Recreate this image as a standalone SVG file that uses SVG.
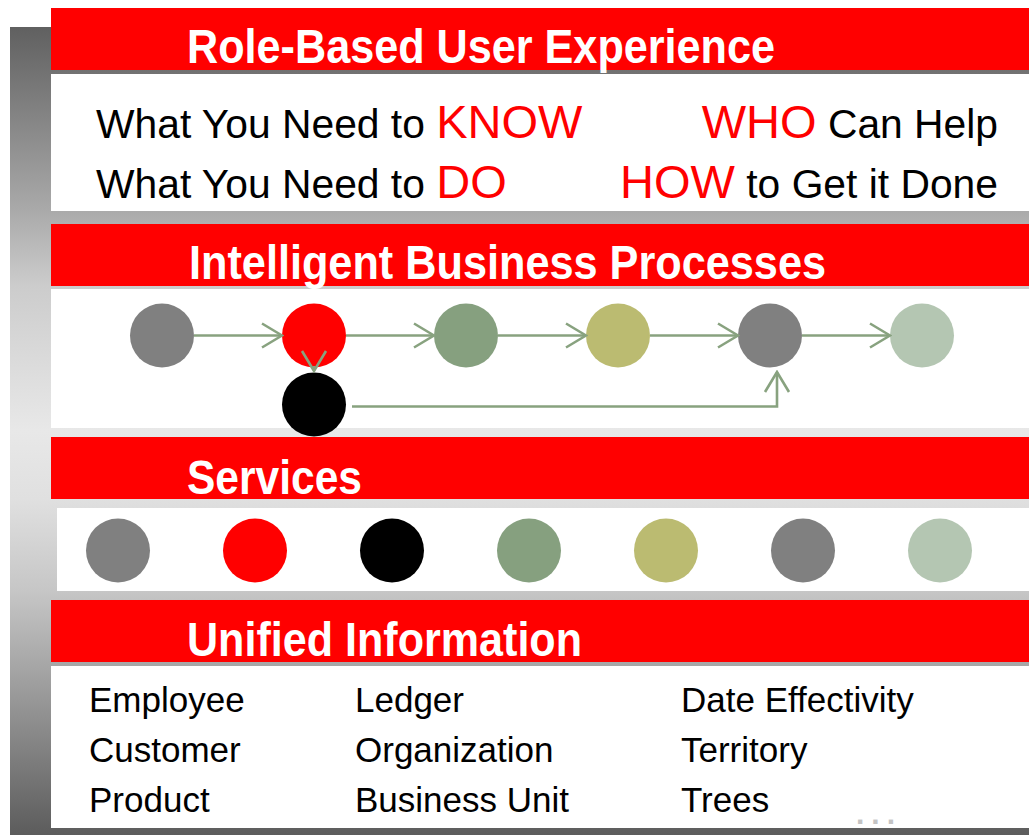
<svg xmlns="http://www.w3.org/2000/svg" width="1029" height="835" viewBox="0 0 1029 835">
<defs>
<linearGradient id="bg" gradientUnits="userSpaceOnUse" x1="0" y1="27" x2="0" y2="835">
<stop offset="0" stop-color="#606060"/>
<stop offset="0.228" stop-color="#aaaaaa"/>
<stop offset="0.32" stop-color="#cccccc"/>
<stop offset="0.5" stop-color="#e8e8e8"/>
<stop offset="0.584" stop-color="#e0e0e0"/>
<stop offset="0.698" stop-color="#c6c6c6"/>
<stop offset="0.786" stop-color="#a8a8a8"/>
<stop offset="1" stop-color="#5c5c5c"/>
</linearGradient>
<marker id="arr" viewBox="0 0 24 28" refX="22" refY="14" markerWidth="24" markerHeight="28" markerUnits="userSpaceOnUse" orient="auto">
<path d="M2,2 L22,14 L2,26" fill="none" stroke="#88a27f" stroke-width="2.6"/>
</marker>
<style>
.band{fill:#ff0000}
.panel{fill:#ffffff}
.hdr{font-family:"Liberation Sans",Arial,sans-serif;font-weight:bold;font-size:48px;fill:#ffffff}
.body{font-family:"Liberation Sans",Arial,sans-serif;font-size:40.8px;fill:#000000}
.red{fill:#ff0000;font-size:47px}
.info{font-family:"Liberation Sans",Arial,sans-serif;font-size:35px;fill:#000000}
.conn{fill:none;stroke:#88a27f;stroke-width:2.6}
</style>
</defs>

<rect id="backdrop" x="10" y="27" width="1019" height="808" fill="url(#bg)"/>

<g id="role-based">
<rect class="band" x="51" y="8" width="978" height="62"/>
<text class="hdr" x="187" y="63" textLength="588" lengthAdjust="spacingAndGlyphs">Role-Based User Experience</text>
<rect class="panel" x="51" y="74" width="978" height="137"/>
<text class="body" x="96" y="138">What You Need to <tspan class="red">KNOW</tspan></text>
<text class="body" x="96" y="198">What You Need to <tspan class="red">DO</tspan></text>
<text class="body" x="998" y="138" text-anchor="end"><tspan class="red">WHO</tspan> Can Help</text>
<text class="body" x="998" y="198" text-anchor="end"><tspan class="red">HOW</tspan> to Get it Done</text>
</g>

<g id="processes">
<rect class="band" x="51" y="224" width="978" height="62"/>
<text class="hdr" x="189" y="279" textLength="637" lengthAdjust="spacingAndGlyphs">Intelligent Business Processes</text>
<rect class="panel" x="51" y="289" width="978" height="139"/>
</g>

<g id="process-nodes">
<circle id="p1" cx="162" cy="335.5" r="32" fill="#808080"/>
<circle id="p2" cx="314" cy="335.5" r="32" fill="#ff0000"/>
<circle id="p3" cx="466" cy="335.5" r="32" fill="#86a07f"/>
<circle id="p4" cx="618" cy="335.5" r="32" fill="#bbbb71"/>
<circle id="p5" cx="770" cy="335.5" r="32" fill="#808080"/>
<circle id="p6" cx="922" cy="335.5" r="32" fill="#b4c6b2"/>
<circle id="p7" cx="314" cy="404.5" r="32" fill="#000000"/>
</g>

<g id="connectors">
<line class="conn" x1="194" y1="335.5" x2="282" y2="335.5" marker-end="url(#arr)"/>
<line class="conn" x1="346" y1="335.5" x2="434" y2="335.5" marker-end="url(#arr)"/>
<line class="conn" x1="498" y1="335.5" x2="586" y2="335.5" marker-end="url(#arr)"/>
<line class="conn" x1="650" y1="335.5" x2="738" y2="335.5" marker-end="url(#arr)"/>
<line class="conn" x1="802" y1="335.5" x2="890" y2="335.5" marker-end="url(#arr)"/>
<line class="conn" x1="314" y1="366" x2="314" y2="371" marker-end="url(#arr)"/>
<polyline class="conn" points="352,406.5 777,406.5 777,372" marker-end="url(#arr)"/>
</g>

<g id="services">
<rect class="band" x="51" y="437" width="978" height="62"/>
<text class="hdr" x="187" y="494" textLength="175" lengthAdjust="spacingAndGlyphs">Services</text>
<rect class="panel" x="57" y="508" width="972" height="83"/>
<circle cx="118" cy="550.5" r="32" fill="#808080"/>
<circle cx="255" cy="550.5" r="32" fill="#ff0000"/>
<circle cx="392" cy="550.5" r="32" fill="#000000"/>
<circle cx="529" cy="550.5" r="32" fill="#86a07f"/>
<circle cx="666" cy="550.5" r="32" fill="#bbbb71"/>
<circle cx="803" cy="550.5" r="32" fill="#808080"/>
<circle cx="940" cy="550.5" r="32" fill="#b4c6b2"/>
</g>

<g id="unified">
<rect class="band" x="51" y="600" width="978" height="62"/>
<text class="hdr" x="187" y="656" textLength="395" lengthAdjust="spacingAndGlyphs">Unified Information</text>
<rect class="panel" x="51" y="666" width="978" height="162"/>
<text class="info" x="89" y="712">Employee</text>
<text class="info" x="89" y="762">Customer</text>
<text class="info" x="89" y="812">Product</text>
<text class="info" x="355" y="712">Ledger</text>
<text class="info" x="355" y="762">Organization</text>
<text class="info" x="355" y="812">Business Unit</text>
<text class="info" x="681" y="712">Date Effectivity</text>
<text class="info" x="681" y="762">Territory</text>
<text class="info" x="681" y="812">Trees</text>
<text x="856" y="824" font-family="Liberation Sans, Arial, sans-serif" font-size="30" font-weight="bold" letter-spacing="7" fill="#c4c4c4">...</text>
</g>
</svg>
